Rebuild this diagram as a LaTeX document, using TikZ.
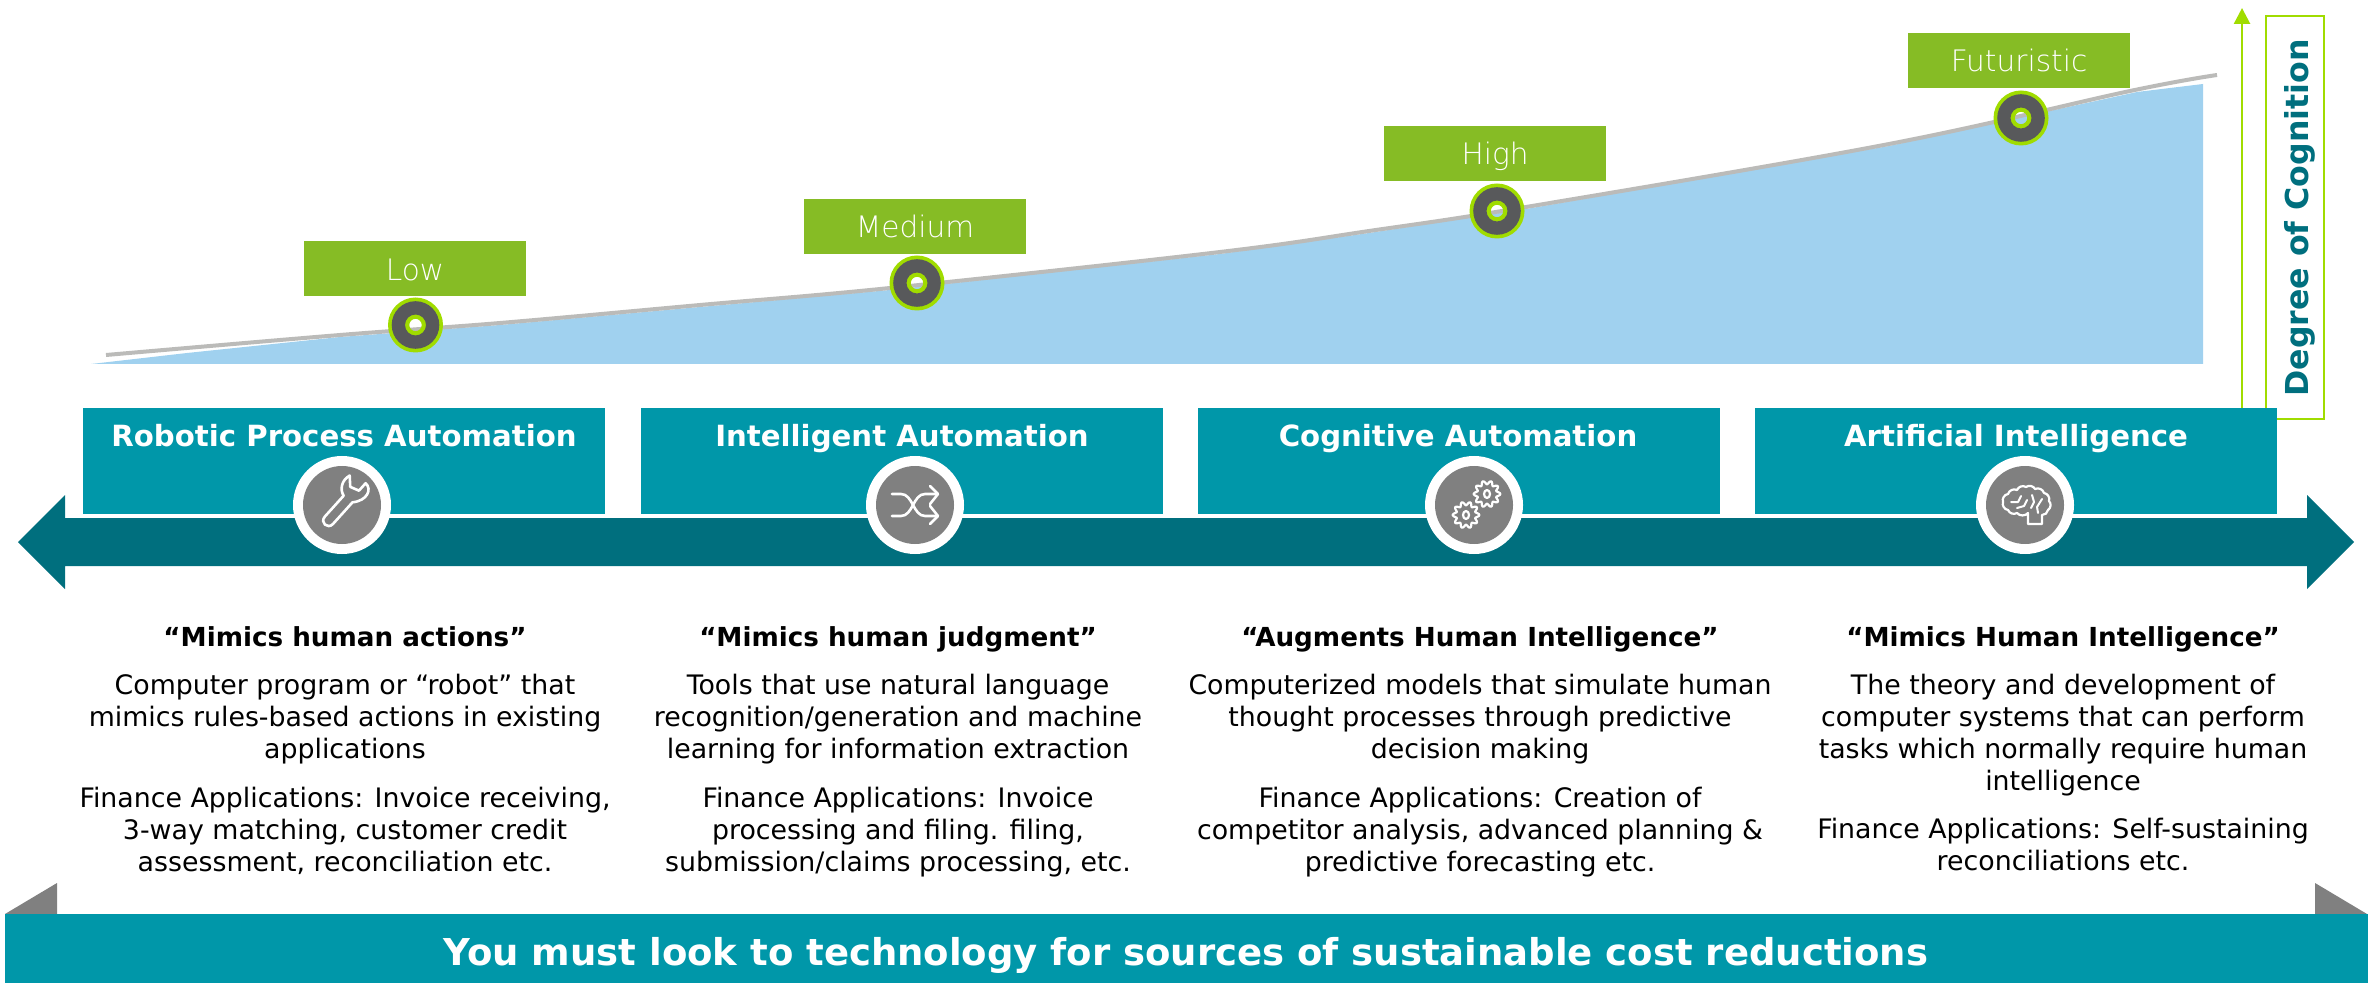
\documentclass[tikz,border=0pt]{standalone}
\usepackage{fontspec}
\setmainfont{DejaVu Sans}
\newfontfamily\lightfont{DejaVu Sans ExtraLight}
\definecolor{teal1}{HTML}{0097A9}
\definecolor{teal2}{HTML}{006F7E}
\definecolor{grn}{HTML}{86BC25}
\definecolor{lime}{HTML}{A0DC00}
\definecolor{skyb}{HTML}{A0D1EF}
\definecolor{lineg}{HTML}{BBBBB9}
\definecolor{darkg}{HTML}{58595B}
\definecolor{iconnG}{HTML}{808080}
\usetikzlibrary{arrows.meta}
\tikzset{
  x=0.5pt,y=-0.5pt,
  levelbox/.style={fill=grn,minimum width=111pt,minimum height=27.5pt,inner sep=0},
  leveltext/.style={text=white,inner sep=0,anchor=base,font=\fontsize{14.8}{16}\lightfont\selectfont},
  stagebox/.style={fill=teal1,minimum width=261pt,minimum height=53pt,inner sep=0},
  stagetitle/.style={text=white,inner sep=0,anchor=base,font=\fontsize{14.6}{16}\bfseries\selectfont},
  iconline/.style={draw=white,line width=1.3pt,line cap=round,line join=round},
  iconwhite/.style={circle,fill=white,minimum size=49pt,inner sep=0},
  icongray/.style={circle,fill=iconnG,minimum size=39pt,inner sep=0},
  quotetext/.style={inner sep=0,anchor=base,text=black,font=\fontsize{13.1}{16}\bfseries\selectfont},
  bodytext/.style={inner sep=0,align=center,text=black,font=\fontsize{13.4}{16}\selectfont},
}
\newcommand{\marker}[1]{%
  \fill[lime,even odd rule] (#1) circle (27.5) circle (6.2);
  \fill[darkg,even odd rule] (#1) circle (23.8) circle (10.5);
}
\newcommand{\gearshape}[1]{%
  \draw[iconline,line width=1.1pt] plot[domain=0:360,samples=121,shift={(#1)}]
    ({(11.5+1.8*cos(10*\x))*cos(\x)},{(11.5+1.8*cos(10*\x))*sin(\x)});
  \draw[iconline,line width=1.1pt] (#1) ellipse (3 and 4);
}
\begin{document}
\begin{tikzpicture}
\useasboundingbox (0,0) rectangle (2369,983);
% curve area
\fill[skyb] (91,364) -- (187,353) -- (340,337) -- (500,325) -- (700,307) -- (890,290) -- (1220,254) -- (1369,233) -- (1526,209) -- (1889,146) -- (2137,92) -- (2203,84) -- (2203,364) -- cycle;
\draw[lineg,line width=2pt] plot[smooth,tension=0.6] coordinates {(106,355) (340,335) (500,323) (700,305) (890,288) (1220,252) (1369,231) (1526,207) (1889,144) (2130,91) (2217,75)};
% level boxes
\node[levelbox] (low) at (415,269) {};
\node[levelbox] (med) at (915,227) {};
\node[levelbox] (high) at (1495,153.5) {};
\node[levelbox] (fut) at (2019,60.5) {};
\node[leveltext] (lowt) at (415,281) {Low};
\node[leveltext] (medt) at (915,238) {Medium};
\node[leveltext] (hight) at (1495,164.5) {High};
\node[leveltext] (futt) at (2019,71.5) {Futuristic};
\coordinate (mlow) at (415.5,325);
\coordinate (mmed) at (917,283);
\coordinate (mhigh) at (1497,211);
\coordinate (mfut) at (2021,118);
\marker{mlow}\marker{mmed}\marker{mhigh}\marker{mfut}
% cognition axis
\node[draw=lime,line width=1pt,minimum width=29pt,minimum height=201.5pt,inner sep=0] (degbox) at (2295,217.5) {};
\node[rotate=90,anchor=base,text=teal2,inner sep=0,font=\fontsize{15.8}{20}\bfseries\selectfont] (degtext) at (2308,218) {Degree of Cognition};
\coordinate (axisbase) at (2242,420);
\coordinate (axistop) at (2242,8);
\draw[lime,line width=1.3pt,-{Triangle[length=8pt,width=8pt]}] (axisbase) -- (axistop);
% main arrow
\fill[teal2] (18,542) -- (65,495) -- (65,518) -- (2307,518) -- (2307,495) -- (2354,542) -- (2307,589) -- (2307,566) -- (65,566) -- (65,589) -- cycle;
% stage boxes
\node[stagebox] (s1) at (344,461) {};
\node[stagebox] (s2) at (902,461) {};
\node[stagebox] (s3) at (1459,461) {};
\node[stagebox] (s4) at (2016,461) {};
\node[stagetitle] (t1) at (344,446.5) {Robotic Process Automation};
\node[stagetitle] (t2) at (902,446.5) {Intelligent Automation};
\node[stagetitle] (t3) at (1458,446.5) {Cognitive Automation};
\node[stagetitle] (t4) at (2016,446.5) {Artificial Intelligence};
% icon discs
\foreach \n/\xx in {a/342,b/915,c/1474,d/2025}{
  \node[iconwhite] (w\n) at (\xx,505) {};
  \node[icongray] (g\n) at (\xx,505) {};
}
% wrench
\begin{scope}[shift={(342,505)},rotate=48]
\draw[iconline] (-20,-5) -- (8,-5) .. controls (10,-12) and (18,-17) .. (27,-14) -- (19,-6) -- (22,3) -- (32,3) .. controls (32,12) and (20,16) .. (9,6) -- (-20,6) .. controls (-28,6) and (-28,-5) .. (-20,-5) -- cycle;
\end{scope}
% shuffle
\begin{scope}[shift={(915,505)}]
\draw[iconline] (-23,-11) -- (-14,-11) .. controls (-2,-11) and (-2,11) .. (10,11) -- (22,11);
\draw[iconline] (-23,11) -- (-14,11) .. controls (-2,11) and (-2,-11) .. (10,-11) -- (22,-11);
\draw[iconline] (15,-19) -- (23,-11) -- (15,-1);
\draw[iconline] (15,1) -- (23,11) -- (15,19);
\end{scope}
% gears
\gearshape{1487,494}
\gearshape{1466,515}
% brain
\begin{scope}[shift={(2026,505)}]
\draw[iconline,line width=1.1pt] (2,19) -- (2,8) to[bend left=50] (-9,8) to[bend left=50] (-18,5) to[bend left=50] (-23,-3) to[bend left=50] (-18,-11) to[bend left=50] (-9,-15) to[bend left=50] (0,-18) to[bend left=50] (9,-16) to[bend left=50] (18,-12) to[bend left=50] (23,-4) to[bend left=50] (22,5) to[bend left=40] (16,10) -- (16,19) -- cycle;
\draw[iconline,line width=1pt] (-15,-3) -- (-8,-3) -- (-5,-9);
\draw[iconline,line width=1pt] (-9,3) -- (-2,1) -- (1,-5);
\draw[iconline,line width=1pt] (6,-10) -- (8,-3) -- (5,3);
\draw[iconline,line width=1pt] (16,-6) -- (11,2) -- (12,8);
\end{scope}
% column text
\node[quotetext] (q1) at (345,646) {“Mimics human actions”};
\node[quotetext] (q2) at (898,646) {“Mimics human judgment”};
\node[quotetext] (q3) at (1480,646) {“Augments Human Intelligence”};
\node[quotetext] (q4) at (2063,646) {“Mimics Human Intelligence”};
\node[bodytext] (b1) at (345,719.5) {Computer program or “robot” that\\mimics rules-based actions in existing\\applications};
\node[bodytext] (b2) at (898,719.5) {Tools that use natural language\\recognition/generation and machine\\learning for information extraction};
\node[bodytext] (b3) at (1480,719.5) {Computerized models that simulate human\\thought processes through predictive\\decision making};
\node[bodytext] (b4) at (2063,735.5) {The theory and development of\\computer systems that can perform\\tasks which normally require human\\intelligence};
\node[bodytext] (f1) at (345,830.5) {Finance Applications: Invoice receiving,\\3-way matching, customer credit\\assessment, reconciliation etc.};
\node[bodytext] (f2) at (898,832) {Finance Applications: Invoice\\processing and filing. filing,\\submission/claims processing, etc.};
\node[bodytext] (f3) at (1480,832) {Finance Applications: Creation of\\competitor analysis, advanced planning \&\\predictive forecasting etc.};
\node[bodytext] (f4) at (2063,845) {Finance Applications: Self-sustaining\\reconciliations etc.};
% banner
\fill[iconnG] (5,914) -- (57,883) -- (57,914) -- cycle;
\fill[iconnG] (2367,914) -- (2315,883) -- (2315,914) -- cycle;
\node[fill=teal1,minimum width=1181.5pt,minimum height=34.5pt,inner sep=0] (banner) at (1186.5,948.5) {};
\node[text=white,inner sep=0,anchor=base,font=\fontsize{18.5}{20}\bfseries\selectfont] (bannertext) at (1186,965) {You must look to technology for sources of sustainable cost reductions};
\end{tikzpicture}
\end{document}
